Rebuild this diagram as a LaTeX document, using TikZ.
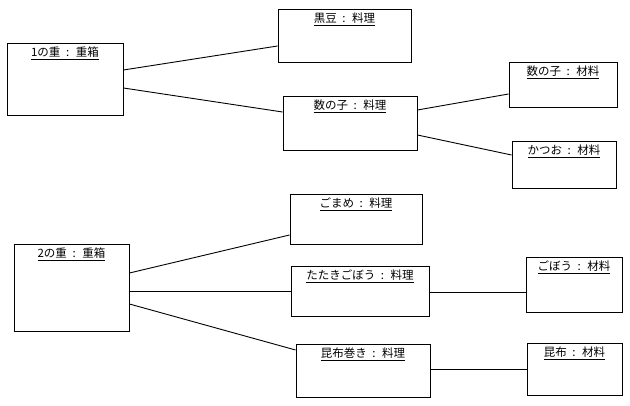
\documentclass[tikz,border=0pt]{standalone}
\usepackage{fontspec}
\newfontfamily\cjk[WordSpace=2.2]{Noto Sans CJK JP}
\begin{document}
\begin{tikzpicture}[x=1pt,y=-1pt,
  obj/.style={draw=black,line width=0.9pt,rectangle,inner sep=0pt,fill=white},
  lbl/.style={anchor=north,inner sep=0pt,font=\cjk\fontsize{11.5}{13}\selectfont},
  link/.style={draw=black,line width=0.9pt}]
\useasboundingbox[fill=white] (0,0) rectangle (630,406);
\newcommand{\obj}[6]{%
  \node[obj,minimum width=#3,minimum height=#4] (#1) at (#2) {};
  \node[lbl] (#1-l) at ([yshift=-#5]#1.north) {\underline{#6}};}
\obj{juu1}{65,79}{116}{72}{4}{1の重 : 重箱}
\obj{kuromame}{344.5,35.5}{133}{53}{4}{黒豆 : 料理}
\obj{kazur}{350,123}{134}{54}{4}{数の子 : 料理}
\obj{kazuz}{563,84.5}{108}{45}{4}{数の子 : 材料}
\obj{katsuo}{564,164.5}{104}{47}{4}{かつお : 材料}
\obj{gomame}{356,219}{132}{50}{4}{ごまめ : 料理}
\obj{juu2}{71.5,287.5}{115}{87}{4}{2の重 : 重箱}
\obj{tataki}{360,291}{138}{50}{4}{たたきごぼう : 料理}
\obj{konbumaki}{363,370.5}{134}{53}{4}{昆布巻き : 料理}
\obj{gobou}{574,284.5}{96}{55}{4}{ごぼう : 材料}
\obj{konbu}{574.5,369}{95}{52}{4}{昆布 : 材料}
\draw[link] (juu1.east |- 0,70) -- (kuromame.west |- 0,46);
\draw[link] (juu1.east |- 0,88) -- (kazur.west |- 0,112);
\draw[link] (kazur.east |- 0,110) -- (kazuz.west |- 0,94);
\draw[link] (kazur.east |- 0,135) -- (katsuo.west |- 0,155);
\draw[link] (juu2.east |- 0,273) -- (gomame.west |- 0,235);
\draw[link] (juu2.east |- 0,291) -- (tataki.west |- 0,291);
\draw[link] (juu2.east |- 0,304) -- (konbumaki.west |- 0,350);
\draw[link] (tataki.east |- 0,292) -- (gobou.west |- 0,292);
\draw[link] (konbumaki.east |- 0,369) -- (konbu.west |- 0,369);
\end{tikzpicture}
\end{document}
